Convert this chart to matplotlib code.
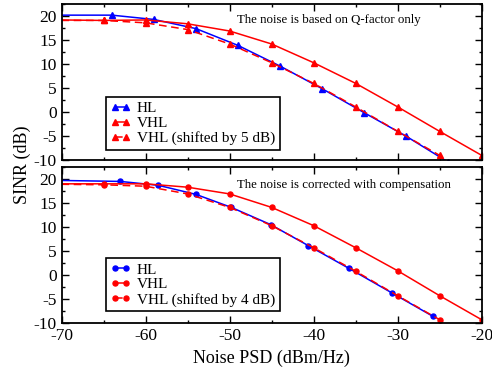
import numpy as np
import matplotlib
matplotlib.use('Agg')
import matplotlib.pyplot as plt
from matplotlib.ticker import MultipleLocator

plt.rcParams['font.family'] = ['Liberation Serif', 'DejaVu Serif']
plt.rcParams['axes.unicode_minus'] = False

# top panel (Q-factor only), triangles
hl_x_top = [-70, -64, -59, -54, -49, -44, -39, -34, -29, -24]
hl_y_top = [20.2, 20.2, 19.3, 17.4, 13.9, 9.6, 4.9, -0.1, -5.0, -10.4]
vhl_x_top = [-70, -65, -60, -55, -50, -45, -40, -35, -30, -25, -20]
vhl_y_top = [19.2, 19.1, 19.2, 18.4, 16.9, 14.2, 10.3, 6.0, 1.1, -4.0, -9.0]
vhls_x_top = [-70, -65, -60, -55, -50, -45, -40, -35, -30, -25]
vhls_y_top = [19.1, 19.1, 18.6, 17.2, 14.2, 10.3, 6.0, 1.1, -4.0, -9.0]

# bottom panel (with compensation), circles
hl_x_bot = [-70, -63.0, -58.5, -54.0, -49.8, -45.1, -40.6, -35.8, -30.7, -25.8]
hl_y_bot = [19.7, 19.5, 18.7, 16.8, 14.1, 10.5, 6.1, 1.4, -3.7, -8.6]
vhl_x_bot = [-70, -65, -60, -55, -50, -45, -40, -35, -30, -25, -20]
vhl_y_bot = [19.0, 19.0, 19.0, 18.3, 16.9, 14.1, 10.3, 5.7, 0.9, -4.3, -9.3]
vhls_x_bot = [-70, -65, -60, -55, -50, -45, -40, -35, -30, -25]
vhls_y_bot = [18.9, 18.8, 18.5, 16.9, 14.1, 10.3, 5.7, 0.8, -4.3, -9.3]

fig = plt.figure(figsize=(4.92, 3.74), dpi=100)
ax1 = fig.add_axes([0.125, 0.572, 0.8537, 0.417])
ax2 = fig.add_axes([0.125, 0.1364, 0.8537, 0.417])


def style_axis(ax):
    ax.set_xlim(-70, -20)
    ax.set_ylim(-10, 22.5)
    ax.xaxis.set_major_locator(MultipleLocator(10))
    ax.xaxis.set_minor_locator(MultipleLocator(5))
    ax.yaxis.set_major_locator(MultipleLocator(5))
    ax.yaxis.set_minor_locator(MultipleLocator(2.5))
    ax.tick_params(which='both', direction='in', top=True, right=True, width=1.0)
    ax.tick_params(which='major', length=5, labelsize=12.5)
    ax.tick_params(which='minor', length=2.5)
    for s in ax.spines.values():
        s.set_linewidth(1.3)


def draw_panel(ax, marker, ms, hx, hy, vx, vy, sx, sy, shift, note, note_y, leg_y):
    kw = dict(marker=marker, markersize=ms, linewidth=1.1, markevery=slice(1, None))
    ax.plot(hx, hy, color='blue', label='HL', **kw)
    ax.plot(vx, vy, color='red', label='VHL', **kw)
    ax.plot(sx, sy, color='red', linestyle=(0, (5, 3)),
            label='VHL (shifted by %d dB)' % shift, **kw)
    style_axis(ax)
    ax.text(0.417, note_y, note, transform=ax.transAxes, fontsize=9.3, va='center')
    leg = ax.legend(loc='upper left', bbox_to_anchor=(0.105, leg_y), fontsize=11,
                    fancybox=False, edgecolor='black', framealpha=1, borderaxespad=0,
                    borderpad=0.3, handlelength=1.35, handletextpad=0.4,
                    labelspacing=0.08, numpoints=2)
    leg.get_frame().set_linewidth(1.2)


draw_panel(ax1, '^', 3.8, hl_x_top, hl_y_top, vhl_x_top, vhl_y_top, vhls_x_top, vhls_y_top,
           5, 'The noise is based on Q-factor only', 0.897, 0.406)
draw_panel(ax2, 'o', 3.6, hl_x_bot, hl_y_bot, vhl_x_bot, vhl_y_bot, vhls_x_bot, vhls_y_bot,
           4, 'The noise is corrected with compensation', 0.885, 0.415)

ax1.tick_params(labelbottom=False)
ax2.set_xlabel('Noise PSD (dBm/Hz)', fontsize=13, labelpad=4)
fig.text(0.045, 0.56, 'SINR (dB)', rotation=90, fontsize=13, ha='center', va='center')

fig.savefig('out.png', dpi=100)
